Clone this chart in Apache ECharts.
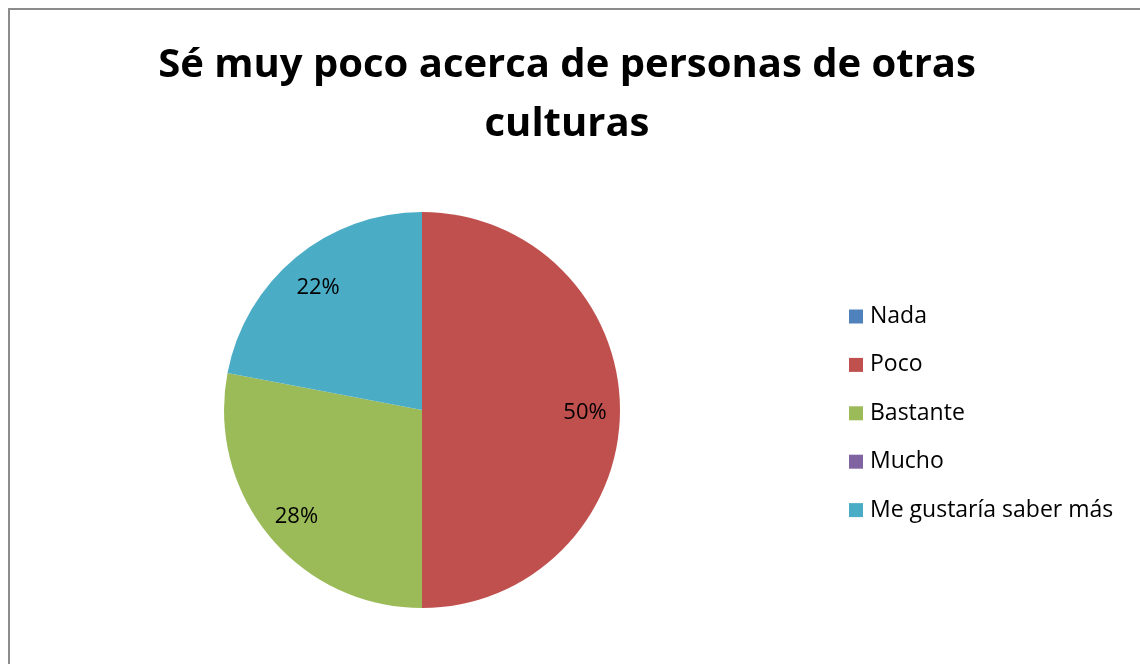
<!DOCTYPE html>
<html>
<head>
<meta charset="utf-8">
<script src="https://cdn.jsdelivr.net/npm/echarts@6/dist/echarts.min.js"></script>
<style>
  html, body { margin: 0; padding: 0; background: #fff; }
  #frame {
    position: absolute; left: 8px; top: 8px; width: 1140px; height: 664px;
    border-top: 2px solid #8c8c8c; border-left: 2px solid #8c8c8c;
  }
  #chart { position: absolute; left: 0; top: 0; width: 1140px; height: 664px; }
</style>
</head>
<body>
<div id="frame"></div>
<div id="chart"></div>
<script>
// respuestas y porcentajes
var categories = ['Nada', 'Poco', 'Bastante', 'Mucho', 'Me gustaría saber más'];
var values = [0, 50, 28, 0, 22];
var colors = ['#4F81BD', '#C0504D', '#9BBB59', '#8064A2', '#4BACC6'];
var titleText = 'Sé muy poco acerca de personas de otras\nculturas';

var font = 'Open Sans';
var chart = echarts.init(document.getElementById('chart'));

var pieData = categories.map(function (name, i) {
  return { name: name, value: values[i], itemStyle: { color: colors[i] } };
});

var option = {
  backgroundColor: 'transparent',
  animation: false,
  title: {
    text: titleText,
    left: 562,
    textAlign: 'center',
    top: 31,
    textStyle: { fontFamily: font, fontWeight: 'bold', fontSize: 40, color: '#000', lineHeight: 59 }
  },
  legend: {
    orient: 'vertical',
    left: 844,
    top: 300,
    icon: 'rect',
    itemWidth: 14,
    itemHeight: 14,
    itemGap: 25.4,
    selectedMode: false,
    data: categories,
    textStyle: { fontFamily: font, fontSize: 23, color: '#000', padding: [0, 0, 0, 2] }
  },
  series: [
    {
      type: 'pie',
      center: [422, 410],
      radius: [0, 198],
      startAngle: 90,
      clockwise: true,
      label: { show: false },
      labelLine: { show: false },
      itemStyle: { borderWidth: 0 },
      emphasis: { disabled: true },
      data: pieData
    },
    {
      // capa transparente solo para ubicar las etiquetas de porcentaje
      type: 'pie',
      center: [422, 410],
      radius: [122, 198],
      startAngle: 90,
      clockwise: true,
      silent: true,
      itemStyle: { color: 'rgba(0,0,0,0)', borderWidth: 0 },
      emphasis: { disabled: true },
      label: {
        show: true,
        position: 'inside',
        fontFamily: font,
        fontSize: 22,
        color: '#000',
        offset: [0, 3],
        formatter: function (p) { return p.value > 0 ? p.value + '%' : ''; }
      },
      labelLine: { show: false },
      data: categories.map(function (name, i) { return { name: name, value: values[i] }; })
    }
  ]
};
chart.setOption(option);
</script>
</body>
</html>
